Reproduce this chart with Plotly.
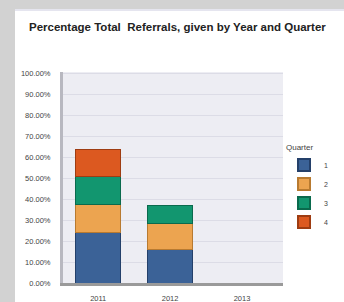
import plotly.graph_objects as go

years = ["2011", "2012", "2013"]
quarters = ["1", "2", "3", "4"]
q1 = [24.2, 16.1, None]
q2 = [13.2, 12.2, None]
q3 = [13.3, 8.7, None]
q4 = [13.1, None, None]
colors = ["#3b6297", "#eca450", "#12966f", "#dc5920"]
edges = ["#24406a", "#b87a30", "#0a6a4d", "#9e3c12"]
y_ticks = [0, 10, 20, 30, 40, 50, 60, 70, 80, 90, 100]
y_tick_text = ["%.2f%%" % v for v in y_ticks]

W, H = 344, 302
L, R, T, B = 63, 283, 72, 283

fig = go.Figure()
for name, vals, c, e in zip(quarters, [q1, q2, q3, q4], colors, edges):
    fig.add_trace(go.Bar(
        x=years, y=vals, name=name,
        marker=dict(color=c, line=dict(color=e, width=1)),
        width=0.62,
    ))

def px2paper_x(p):
    return (p - L) / (R - L)

def px2paper_y(p):
    return (B - p) / (B - T)

gray = "#d2d2d2"
shapes = [
    dict(type="rect", xref="paper", yref="paper", layer="below",
         x0=px2paper_x(-5), x1=px2paper_x(15), y0=px2paper_y(H + 5), y1=px2paper_y(-5),
         fillcolor=gray, line=dict(width=0)),
    dict(type="rect", xref="paper", yref="paper", layer="below",
         x0=px2paper_x(-5), x1=px2paper_x(W + 5), y0=px2paper_y(9), y1=px2paper_y(-5),
         fillcolor=gray, line=dict(width=0)),
    dict(type="line", xref="paper", yref="paper", layer="below",
         x0=px2paper_x(15), x1=px2paper_x(W + 5), y0=px2paper_y(10), y1=px2paper_y(10),
         line=dict(color="#dcdcea", width=1.5)),
]

fig.update_layout(
    width=W, height=H,
    margin=dict(l=L, r=W - R, t=T, b=H - B, pad=0, autoexpand=False),
    paper_bgcolor="white",
    plot_bgcolor="#ededf3",
    barmode="stack",
    shapes=shapes,
    font=dict(family="Liberation Sans, Arial, sans-serif", size=7, color="#444"),
    title=dict(text="<b>Percentage Total  Referrals, given by Year and Quarter</b>",
               x=29 / W, xanchor="left", y=1 - 27 / H, yanchor="middle",
               font=dict(size=11.5, color="#222")),
    legend=dict(title=dict(text="Quarter", font=dict(size=8, color="#444")),
                x=px2paper_x(284), xanchor="left", y=px2paper_y(140), yanchor="top",
                traceorder="normal",
                font=dict(size=7, color="#444"), itemsizing="constant",
                bgcolor="rgba(0,0,0,0)", tracegroupgap=0),
    xaxis=dict(type="category", range=[-0.49, 2.57], showgrid=False,
               showline=True, linecolor="#9a9a9a", linewidth=3,
               ticks="", tickfont=dict(size=7.5, color="#444"), ticklabelstandoff=6),
    yaxis=dict(range=[0, 100.5], tickvals=y_ticks, ticktext=y_tick_text,
               showgrid=True, gridcolor="#dcdce6", gridwidth=1,
               showline=True, linecolor="#b8b8c0", linewidth=3,
               ticks="", tickfont=dict(size=7.5, color="#444"), ticklabelstandoff=8,
               zeroline=False),
)

fig.write_html(
    "out.html",
    config={"displayModeBar": False},
    post_script="document.body.style.margin='0px';document.body.style.overflow='hidden';",
)
